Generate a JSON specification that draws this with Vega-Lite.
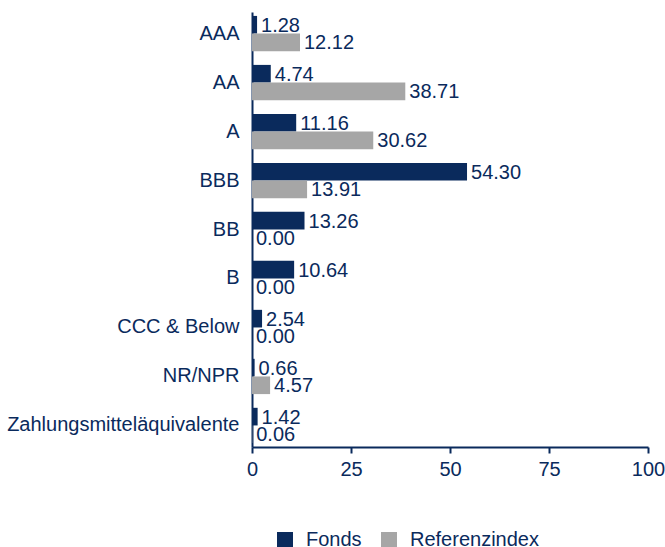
{
  "$schema": "https://vega.github.io/schema/vega-lite/v6.json",
  "autosize": "none",
  "width": 396,
  "height": 435,
  "padding": {"left": 252, "top": 12, "right": 17, "bottom": 100},
  "background": "white",
  "config": {
    "font": "Liberation Sans",
    "view": {"stroke": null}
  },
  "data": {
    "values": [
      {"Kategorie": "AAA", "Serie": "Fonds", "Wert": 1.28},
      {"Kategorie": "AAA", "Serie": "Referenzindex", "Wert": 12.12},
      {"Kategorie": "AA", "Serie": "Fonds", "Wert": 4.74},
      {"Kategorie": "AA", "Serie": "Referenzindex", "Wert": 38.71},
      {"Kategorie": "A", "Serie": "Fonds", "Wert": 11.16},
      {"Kategorie": "A", "Serie": "Referenzindex", "Wert": 30.62},
      {"Kategorie": "BBB", "Serie": "Fonds", "Wert": 54.30},
      {"Kategorie": "BBB", "Serie": "Referenzindex", "Wert": 13.91},
      {"Kategorie": "BB", "Serie": "Fonds", "Wert": 13.26},
      {"Kategorie": "BB", "Serie": "Referenzindex", "Wert": 0.00},
      {"Kategorie": "B", "Serie": "Fonds", "Wert": 10.64},
      {"Kategorie": "B", "Serie": "Referenzindex", "Wert": 0.00},
      {"Kategorie": "CCC & Below", "Serie": "Fonds", "Wert": 2.54},
      {"Kategorie": "CCC & Below", "Serie": "Referenzindex", "Wert": 0.00},
      {"Kategorie": "NR/NPR", "Serie": "Fonds", "Wert": 0.66},
      {"Kategorie": "NR/NPR", "Serie": "Referenzindex", "Wert": 4.57},
      {"Kategorie": "Zahlungsmitteläquivalente", "Serie": "Fonds", "Wert": 1.42},
      {"Kategorie": "Zahlungsmitteläquivalente", "Serie": "Referenzindex", "Wert": 0.06}
    ]
  },
  "encoding": {
    "y": {
      "field": "Kategorie",
      "type": "nominal",
      "sort": null,
      "title": null,
      "scale": {"paddingInner": 0.28, "paddingOuter": 0.08},
      "axis": {
        "ticks": false,
        "domainColor": "#0a2a5c",
        "domainWidth": 2,
        "labelColor": "#0a2a5c",
        "labelFontSize": 20,
        "labelPadding": 13,
        "labelLimit": 400
      }
    },
    "yOffset": {
      "field": "Serie",
      "type": "nominal",
      "sort": ["Fonds", "Referenzindex"]
    },
    "x": {
      "field": "Wert",
      "type": "quantitative",
      "title": null,
      "scale": {"domain": [0, 100], "nice": false},
      "axis": {
        "values": [0, 25, 50, 75, 100],
        "grid": false,
        "domainColor": "#0a2a5c",
        "domainWidth": 2,
        "tickColor": "#0a2a5c",
        "tickWidth": 2,
        "tickSize": 6,
        "labelColor": "#0a2a5c",
        "labelFontSize": 20,
        "labelPadding": 6,
        "labelFlush": false
      }
    }
  },
  "layer": [
    {
      "mark": {"type": "bar"},
      "encoding": {
        "color": {
          "field": "Serie",
          "type": "nominal",
          "scale": {"domain": ["Fonds", "Referenzindex"], "range": ["#0a2a5c", "#a6a6a6"]},
          "legend": {
            "title": null,
            "orient": "none",
            "direction": "horizontal",
            "legendX": 23,
            "legendY": 518,
            "symbolType": "square",
            "symbolSize": 256,
            "symbolStrokeWidth": 0,
            "labelFontSize": 20,
            "labelColor": "#0a2a5c",
            "labelOffset": 11,
            "columnPadding": 17
          }
        }
      }
    },
    {
      "mark": {"type": "text", "align": "left", "baseline": "middle", "dx": 4, "dy": 1, "fontSize": 20, "color": "#0a2a5c"},
      "encoding": {
        "text": {"field": "Wert", "type": "quantitative", "format": ".2f"}
      }
    }
  ]
}
